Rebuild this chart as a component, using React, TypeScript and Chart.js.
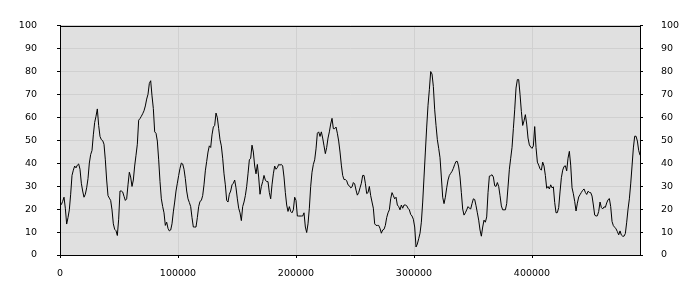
import { useEffect, useRef } from 'react';
import { Chart, registerables } from 'chart.js';

Chart.register(...registerables);

// sampling step along x (data units) and axis extent
const X_STEP = 1130;
const X_MAX = 491520;
const X_TICKS = [0, 100000, 200000, 300000, 400000];
const Y_MIN = 0;
const Y_MAX = 100;
const Y_TICK_STEP = 10;

// series values, one per X_STEP
const seriesValues: number[] = [
  21.8, 22, 23.4, 25.2, 20.4, 13.5, 16.3, 19.7, 26.5, 34.7,
  37, 38.8, 38, 39.2, 39.7, 37.4, 31.3, 27.9, 25.2, 26.5,
  29.3, 33.3, 40.1, 43.8, 45.6, 52.4, 57.8, 60.5, 63.7, 56.5,
  51.7, 50.3, 49.9, 48.3, 41.5, 32.7, 25.9, 24.8, 23.8, 19.7,
  13.6, 11.2, 10.6, 8.5, 15.6, 27.9, 27.9, 27.5, 25.6, 23.8,
  24.5, 30.6, 36.1, 34, 29.9, 32.7, 38.8, 43.5, 48.3, 58.8,
  59.5, 60.5, 61.6, 62.9, 65, 68, 70.1, 74.8, 76, 69.4,
  63.9, 53.7, 53.1, 49.7, 41.5, 32, 24.5, 21.1, 18.4, 12.9,
  14.3, 11.6, 10.5, 10.9, 13.6, 18.8, 23.1, 27.9, 31.3, 34.7,
  37.8, 40.1, 39.7, 37.4, 33.3, 27.9, 24.5, 22.9, 21.1, 16.3,
  12.2, 12.2, 12.2, 16.3, 21.1, 23.4, 23.8, 25.9, 30.6, 36.7,
  40.8, 44.9, 47.6, 46.9, 52.4, 55.8, 56.5, 61.9, 59.9, 55.1,
  50.3, 47.6, 42.2, 35.4, 30.6, 23.8, 23.1, 26.5, 27.9, 30.6,
  31.3, 32.7, 29.3, 24.5, 20.4, 18.4, 15, 21.1, 23.1, 25.9,
  29.9, 35.4, 41.5, 42.2, 47.9, 44.9, 38.8, 35.4, 39.5, 34,
  26.5, 29.9, 32, 34.7, 32.7, 32, 32, 27.2, 24.5, 30.6,
  35.4, 38.8, 37.4, 38.1, 39.5, 39.2, 39.5, 38.8, 34, 27.2,
  21.8, 19, 21.1, 19, 18.4, 19.7, 25.2, 23.8, 17, 17,
  17, 17, 17, 18.4, 12.2, 9.8, 13.6, 20.4, 29.9, 36.1,
  39.5, 41.5, 46.3, 53.1, 53.7, 51.7, 53.7, 51, 47.6, 44.2,
  46.9, 51, 53.7, 57.1, 59.6, 55.1, 55.1, 55.8, 53.1, 49.7,
  44.9, 39.2, 34.7, 32.9, 32.9, 32.4, 30.6, 30.2, 29.3, 29.7,
  31.6, 31, 28.3, 26.1, 27.2, 29.3, 31.3, 34.7, 34.7, 31.3,
  26.8, 27.2, 29.9, 25.9, 23.1, 20.4, 13.6, 12.9, 12.9, 12.9,
  11.6, 9.5, 10.9, 11.2, 12.9, 16.3, 18.4, 19.7, 24.5, 27.2,
  25.9, 24.5, 25.2, 21.8, 21.1, 19.7, 21.8, 20.4, 21.8, 21.8,
  21.5, 20.4, 19.7, 17.7, 17, 15.6, 12.2, 3.5, 4.8, 7.1,
  9.5, 14.3, 23.1, 34, 44.9, 55.8, 65.3, 72.1, 80, 78.9,
  73.5, 63.3, 56.5, 50.3, 46.5, 42.4, 34, 25.2, 22.4, 25.2,
  29.3, 32.7, 34.7, 35.6, 36.5, 37.8, 39.5, 40.8, 40.8, 38.4,
  34, 27.2, 20, 17.4, 18.4, 19.7, 21.1, 20.4, 20.1, 22.4,
  24.5, 24.2, 21.5, 18.4, 15.2, 10.9, 8.2, 12.2, 15.2, 14.3,
  16.6, 27.2, 34.4, 34.6, 35, 34, 30.2, 29.9, 31.6, 29.9,
  25.9, 21.4, 19.7, 19.7, 19.7, 22.4, 29.7, 37.4, 42.2, 46.9,
  55.1, 63.3, 72.8, 76.5, 76.5, 70.1, 62.6, 56.5, 58.5, 61.2,
  57.1, 51, 48, 47.1, 46.5, 47.6, 56, 46.9, 40.5, 39.2,
  37.6, 37, 40.5, 38.8, 34.7, 29.1, 29.9, 28.8, 30.6, 29.3,
  29.7, 22.9, 18.4, 18.5, 20.7, 27.5, 33.7, 37, 38.6, 38.9,
  36.7, 42.2, 45.2, 39.2, 29.3, 26.7, 23.4, 19.2, 22.6, 25.3,
  26.3, 27.3, 28.2, 28.8, 27.3, 26.4, 27.8, 27.3, 27.2, 25.7,
  21.8, 17.4, 17, 17.1, 19, 23.1, 20.7, 20.1, 21, 20.8,
  22.7, 24.1, 24.6, 21.1, 14.6, 12.8, 12.1, 11.4, 10.2, 8.8,
  10.5, 8.7, 8.2, 8.2, 9.4, 14.3, 20, 24.5, 31, 38.8,
  46.7, 51.8, 51.8, 49.7, 45.6, 43.5,
];

const FONT = { family: 'DejaVu Sans', size: 9.5 };

const plotFrame = {
  id: 'plotFrame',
  beforeDraw(chart: any) {
    const { ctx, chartArea } = chart;
    ctx.save();
    ctx.fillStyle = '#e0e0e0';
    ctx.fillRect(chartArea.left, chartArea.top, chartArea.right - chartArea.left, chartArea.bottom - chartArea.top);
    ctx.restore();
  },
  afterDraw(chart: any) {
    const { ctx, chartArea } = chart;
    ctx.save();
    ctx.strokeStyle = '#000';
    ctx.lineWidth = 1;
    ctx.beginPath();
    ctx.moveTo(chartArea.left, Math.round(chartArea.top) + 0.5);
    ctx.lineTo(chartArea.right, Math.round(chartArea.top) + 0.5);
    ctx.stroke();
    ctx.restore();
  },
};

export default function App() {
  const ref = useRef<HTMLCanvasElement | null>(null);

  useEffect(() => {
    document.body.style.margin = '0';
    const points = seriesValues.map((v, i) => ({ x: i * X_STEP, y: v }));
    const yTicks = {
      stepSize: Y_TICK_STEP,
      color: '#000',
      font: FONT,
    };
    const chart = new Chart(ref.current!, {
      type: 'line',
      data: {
        datasets: [
          {
            data: points,
            borderColor: '#000',
            borderWidth: 1,
            pointRadius: 0,
            tension: 0,
            fill: false,
          },
        ],
      },
      options: {
        animation: false,
        responsive: false,
        devicePixelRatio: 1,
        layout: { padding: { top: 10, left: 0, right: 0, bottom: 0 } },
        plugins: { legend: { display: false }, tooltip: { enabled: false } },
        scales: {
          x: {
            type: 'linear',
            min: 0,
            max: X_MAX,
            afterFit: (s: any) => { s.height = 45; },
            afterBuildTicks: (s: any) => { s.ticks = X_TICKS.map((v) => ({ value: v })); },
            ticks: {
              maxRotation: 0,
              autoSkip: false,
              color: '#000',
              font: FONT,
              padding: 10,
              callback: (v: any) => String(v),
            },
            grid: { color: '#d0d0d0', tickColor: '#000', tickLength: 3 },
            border: { color: '#000' },
          },
          y: {
            position: 'left',
            min: Y_MIN,
            max: Y_MAX,
            afterFit: (s: any) => { s.width = 60; },
            ticks: { ...yTicks, padding: 20 },
            grid: { color: '#d0d0d0', tickColor: '#000', tickLength: 3 },
            border: { color: '#000' },
          },
          y2: {
            position: 'right',
            min: Y_MIN,
            max: Y_MAX,
            afterFit: (s: any) => { s.width = 60; },
            ticks: { ...yTicks, padding: 18 },
            grid: { drawOnChartArea: false, tickColor: '#000', tickLength: 3 },
            border: { color: '#000' },
          },
        },
      },
      plugins: [plotFrame],
    });
    return () => chart.destroy();
  }, []);

  return <canvas ref={ref} width={700} height={300} style={{ display: 'block' }} />;
}
